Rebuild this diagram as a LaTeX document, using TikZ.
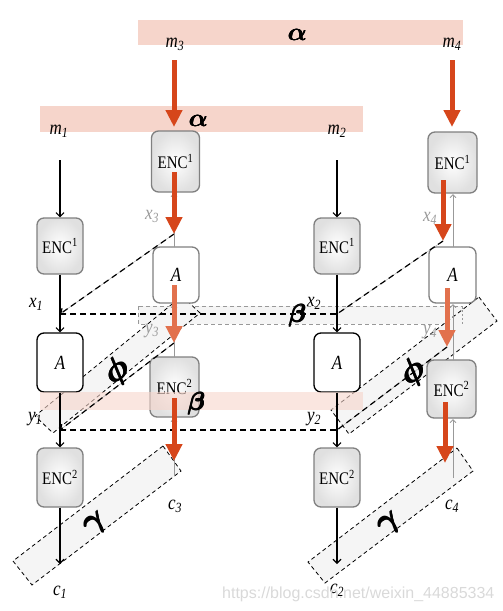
\documentclass[tikz,border=0pt]{standalone}
\usepackage{fontspec}
\setmainfont{Liberation Serif}
\newfontfamily\wmfont{Liberation Sans}
\usepackage{bm}
\usepackage{graphicx}
\usetikzlibrary{arrows.meta}
\definecolor{pinkband}{HTML}{F6D5CB}
\definecolor{redarrow}{HTML}{D6461B}
\definecolor{lightred}{HTML}{E2714D}
\definecolor{graytxt}{HTML}{9A9A9A}
\definecolor{bandfill}{HTML}{F5F5F5}
\definecolor{boxgray}{HTML}{808080}
\newcommand{\vst}[1]{\scalebox{1}[1.18]{#1}}
\newcommand{\fbold}[1]{\rlap{\hspace{0.7pt}$#1$}\rlap{\raisebox{0.7pt}{$#1$}}\rlap{\hspace{0.7pt}\raisebox{0.7pt}{$#1$}}$#1$}
\newcommand{\bigfb}[1]{\scalebox{1.3}{\fbold{#1}}}
\tikzset{
 lbl/.style={font=\fontsize{17}{19}\selectfont\itshape, inner sep=0pt},
 glbl/.style={lbl, text=graytxt},
 grk/.style={inner sep=0pt, font=\fontsize{24.88}{27}\selectfont},
 encbox/.style={draw=boxgray, line width=1.3pt, rounded corners=7pt, minimum width=46pt, minimum height=59pt, inner sep=0pt, shading=radial, inner color=white, outer color=black!12, font=\fontsize{15}{17}\selectfont},
 abox/.style={draw=black, line width=1.3pt, rounded corners=7pt, fill=white, minimum width=46pt, minimum height=59pt, inner sep=0pt, font=\fontsize{17}{19}\selectfont\itshape},
 agbox/.style={abox, draw=boxgray},
 blk/.style={line width=1.1pt, -{Straight Barb[length=4pt,width=8pt]}},
 gln/.style={draw=gray!80, line width=0.9pt, -{Straight Barb[length=3pt,width=6pt]}},
 redarr/.style={draw=redarrow, line width=5pt, -{Triangle[length=17pt,width=16pt]}},
 lredarr/.style={redarr, draw=lightred},
 dband/.style={fill=bandfill, draw=black, line width=0.8pt, dash pattern=on 4pt off 3pt},
 hdash/.style={line width=1.6pt, dash pattern=on 6pt off 4pt},
 ddash/.style={line width=1.2pt, dash pattern=on 6pt off 4pt, -{Straight Barb[length=4pt,width=7pt]}},
 ddashn/.style={line width=1.2pt, dash pattern=on 6pt off 4pt},
 pband/.style={fill=pinkband, draw=none},
}
\begin{document}
\begin{tikzpicture}[x=1pt,y=-1pt]
\useasboundingbox (0,0) rectangle (503,611);
% alpha bands
\fill[pband] (138,20) rectangle (463,45);
\fill[pband] (40,106) rectangle (363,132);
% beta gray band
\draw[fill=bandfill, draw=gray!80, line width=0.8pt, dash pattern=on 4pt off 3pt] (138,306) rectangle (462,324);
% phi and gamma bands
\draw[dband] (182,296) -- (200,313) -- (53,433) -- (35,416) -- cycle;
\draw[dband] (479,297) -- (497,321) -- (349,434) -- (331,410) -- cycle;
\draw[dband] (163,446) -- (181,471) -- (32,585) -- (13,561) -- cycle;
\draw[dband] (457,448) -- (473,471) -- (325,583) -- (308,562) -- cycle;
% coordinates
\coordinate (x1) at (60,314); \coordinate (x2) at (337,314);
\coordinate (y1) at (60,430); \coordinate (y2) at (337,430);
\coordinate (x3) at (174,234); \coordinate (x4) at (443,241);
\coordinate (y3) at (174,343); \coordinate (y4) at (447,347);
\coordinate (m1s) at (60,160); \coordinate (m2s) at (337,160);
\coordinate (c1t) at (60,564); \coordinate (c2t) at (337,564);
\coordinate (c3b) at (174,476); \coordinate (c4b) at (453,478);
% boxes
\node[encbox, minimum height=56pt] (e11) at (60,246) {\vst{ENC\textsuperscript{1}}};
\node[abox] (a1) at (60,362.5) {\vst{A}};
\node[encbox] (e21) at (60,477.5) {\vst{ENC\textsuperscript{2}}};
\node[encbox, minimum height=56pt] (e13) at (337,246) {\vst{ENC\textsuperscript{1}}};
\node[abox] (a3) at (337,362.5) {\vst{A}};
\node[encbox] (e23) at (337,477.5) {\vst{ENC\textsuperscript{2}}};
\node[encbox, minimum width=48pt, minimum height=61pt] (e12) at (175.5,161.5) {\vst{ENC\textsuperscript{1}}};
\node[agbox, minimum height=56pt] (a2) at (176,275) {\vst{A}};
\node[encbox, minimum width=49pt, minimum height=60pt] (e22) at (174.5,387) {\vst{ENC\textsuperscript{2}}};
\node[encbox, minimum width=49pt, minimum height=61pt] (e14) at (452.5,162.5) {\vst{ENC\textsuperscript{1}}};
\node[agbox, minimum width=47pt, minimum height=56pt] (a4) at (452.5,275) {\vst{A}};
\node[encbox, minimum width=49pt, minimum height=58pt] (e24) at (451.5,389) {\vst{ENC\textsuperscript{2}}};
% beta pink band
\fill[pband, fill opacity=0.6] (40,392) rectangle (363,410);
% horizontal dashed lines
\draw[hdash] (x1) -- (x2);
\draw[hdash] (y1) -- (y2);
% diagonal connectors
\draw[gray!60, line width=0.5pt] (x3) -- (x1);
\draw[ddash] (x3) -- (x1);
\draw[gray!60, line width=0.5pt] (x4) -- (x2);
\draw[ddashn] (x4) -- (x2);
\draw[gray!60, line width=0.5pt] (y3) -- (y1);
\draw[ddash] (y3) -- (y1);
\draw[gray!60, line width=0.5pt] (y4) -- (y2);
\draw[ddashn] (y4) -- (y2);
% black column connectors
\draw[blk] (m1s) -- (e11.north);
\draw[blk] (e11.south) -- (a1.north);
\draw[blk] (a1.south) -- (e21.north);
\draw[blk] (e21.south) -- (c1t);
\draw[blk] (m2s) -- (e13.north);
\draw[blk] (e13.south) -- (a3.north);
\draw[blk] (a3.south) -- (e23.north);
\draw[blk] (e23.south) -- (c2t);
% gray reverse lines
\draw[gln] (174,247) -- (174,193);
\draw[gln] (174,357) -- (174,304);
\draw[gln] (c3b) -- (174,418);
\draw[gln] (453,247) -- (453,194);
\draw[gln] (453,360) -- (453,304);
\draw[gln] (c4b) -- (453,419);
\draw[draw=gray!80, line width=0.8pt, dash pattern=on 2pt off 2pt] (462,306) -- (462,324);
% red arrows
\draw[redarr] (174,60) -- (174,127);
\draw[redarr] (174,172) -- (x3);
\draw[lredarr] (174,285) -- (y3);
\draw[redarr] (174,398) -- (174,461);
\draw[redarr] (452,60) -- (452,127);
\draw[redarr] (443,180) -- (x4);
\draw[lredarr] (447,288) -- (y4);
\draw[redarr] (445,402) -- (445,463);
% labels
\node[lbl] (lm1) at (59,131) {\vst{m\textsubscript{1}}};
\node[lbl] (lm2) at (337,131) {\vst{m\textsubscript{2}}};
\node[lbl] (lm3) at (175,44) {\vst{m\textsubscript{3}}};
\node[lbl] (lm4) at (452,44) {\vst{m\textsubscript{4}}};
\node[lbl] (lx1) at (36,304) {\vst{x\textsubscript{1}}};
\node[lbl] (lx2) at (314,303) {\vst{x\textsubscript{2}}};
\node[lbl] (ly1) at (35,419) {\vst{y\textsubscript{1}}};
\node[lbl] (ly2) at (314,419) {\vst{y\textsubscript{2}}};
\node[glbl] (lx3) at (152,216) {\vst{x\textsubscript{3}}};
\node[glbl] (ly3) at (152,331) {\vst{y\textsubscript{3}}};
\node[glbl] (lx4) at (430,218) {\vst{x\textsubscript{4}}};
\node[glbl] (ly4) at (430,332) {\vst{y\textsubscript{4}}};
\node[lbl] (lc1) at (60,592) {\vst{c\textsubscript{1}}};
\node[lbl] (lc2) at (337,590) {\vst{c\textsubscript{2}}};
\node[lbl] (lc3) at (175,506) {\vst{c\textsubscript{3}}};
\node[lbl] (lc4) at (452,506) {\vst{c\textsubscript{4}}};
\node[grk] (al1) at (297,35) {\fbold{\bm{\alpha}}};
\node[grk] (al2) at (198,121) {\fbold{\bm{\alpha}}};
\node[grk] (be1) at (297,316) {\fbold{\bm{\beta}}};
\node[grk] (be2) at (196,404) {\fbold{\bm{\beta}}};
\node[grk, rotate=37] (ph1) at (117,372) {\bigfb{\bm{\phi}}};
\node[grk, rotate=37] (ph2) at (413,373) {\bigfb{\bm{\phi}}};
\node[grk, rotate=37] (ga1) at (96,525) {\bigfb{\bm{\gamma}}};
\node[grk, rotate=37] (ga2) at (390,525) {\bigfb{\bm{\gamma}}};
% watermark
\node[anchor=base west, inner sep=0pt, text=black!15, font=\wmfont\fontsize{16}{18}\selectfont] (wm) at (222,598) {https://blog.csdn.net/weixin\_44885334};
\end{tikzpicture}
\end{document}
